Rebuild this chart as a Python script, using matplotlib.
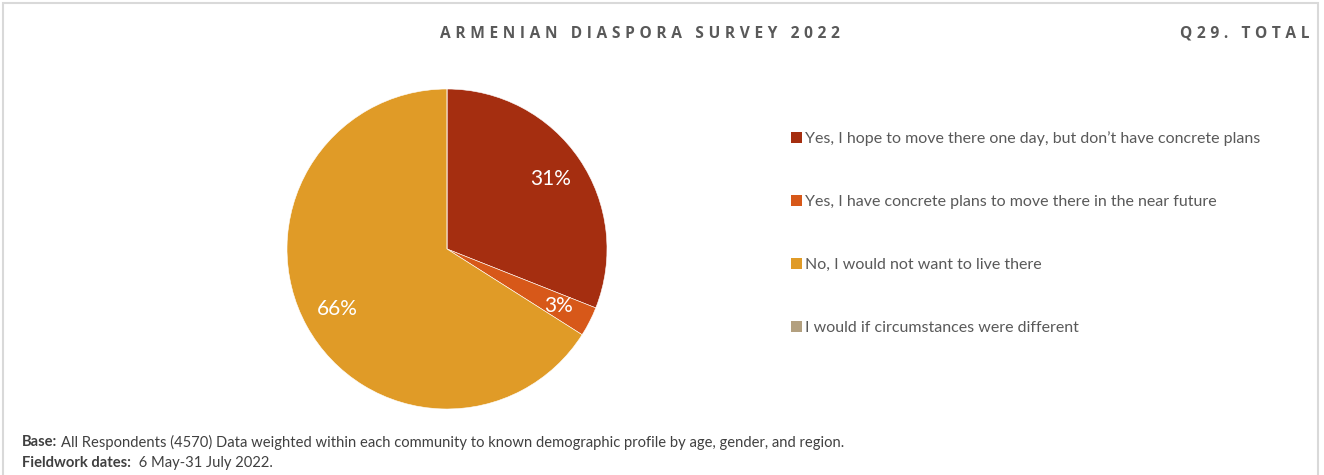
import matplotlib
matplotlib.use("Agg")
import matplotlib.pyplot as plt
from matplotlib.patches import Rectangle, Patch

categories = [
    "Yes, I hope to move there one day, but don\u2019t have concrete plans",
    "Yes, I have concrete plans to move there in the near future",
    "No, I would not want to live there",
    "I would if circumstances were different",
]
values = [31, 3, 66, 0]
colors = ["#A52E10", "#D75819", "#E09B27", "#B3A07F"]

title = "ARMENIAN DIASPORA SURVEY 2022"
subtitle = "Q29. TOTAL"

W, H = 1324, 475
fig = plt.figure(figsize=(W / 100, H / 100), dpi=100)

def spaced(s):
    sep = "\u2009\u200a"
    return (sep + " " + sep).join(sep.join(list(w)) for w in s.split(" "))

# frame
fig.patches.append(Rectangle((3 / W, -0.1), (1318 - 3) / W, 1 - 3 / H + 0.1,
                             transform=fig.transFigure, fill=False,
                             edgecolor="#D9D9D9", linewidth=1.5))

fig.text(640 / W, 1 - 34 / H, spaced(title), ha="center", va="center",
         fontsize=11.2, fontweight="bold", color="#595959", family="Open Sans")
fig.text(1309 / W, 1 - 34 / H, spaced(subtitle), ha="right", va="center",
         fontsize=11.2, fontweight="bold", color="#595959", family="Open Sans")

# pie
ax = fig.add_axes([287 / W, 1 - 409 / H, 320 / W, 320 / H])
wedges, texts, autotexts = ax.pie(
    values, colors=colors, startangle=90, counterclock=False,
    autopct=lambda p: f"{p:.0f}%" if p > 0.5 else "",
    pctdistance=0.78,
    wedgeprops=dict(edgecolor="white", linewidth=0.4),
    textprops=dict(color="white", fontsize=15, family="Lato"),
)
ax.set_xlim(-1, 1)
ax.set_ylim(-1, 1)
ax.set_aspect("equal")

# legend
handles = [Patch(facecolor=c, edgecolor="none") for c in colors]
leg = fig.legend(handles, categories, loc="upper left",
                 bbox_to_anchor=(777 / W, 1 - 117 / H), frameon=False,
                 handlelength=0.65, handleheight=0.65, handletextpad=0.2,
                 labelspacing=3.07, prop=dict(family="Lato", size=11.5))
for t in leg.get_texts():
    t.set_color("#595959")

# footer
fig.canvas.draw()
r = fig.canvas.get_renderer()
def two_part(y, bold, normal):
    t1 = fig.text(22 / W, 1 - y / H, bold, ha="left", va="center",
                  fontsize=10.6, fontweight="bold", color="#404040", family="Lato")
    bb = t1.get_window_extent(renderer=r)
    fig.text(bb.x1 / W + 4 / W, 1 - y / H, normal, ha="left", va="center",
             fontsize=10.6, color="#404040", family="Lato")

two_part(442, "Base:", "All Respondents (4570) Data weighted within each community to known demographic profile by age, gender, and region.")
two_part(463, "Fieldwork dates:", " 6 May-31 July 2022.")

fig.savefig("out.png", dpi=100, facecolor="white")
